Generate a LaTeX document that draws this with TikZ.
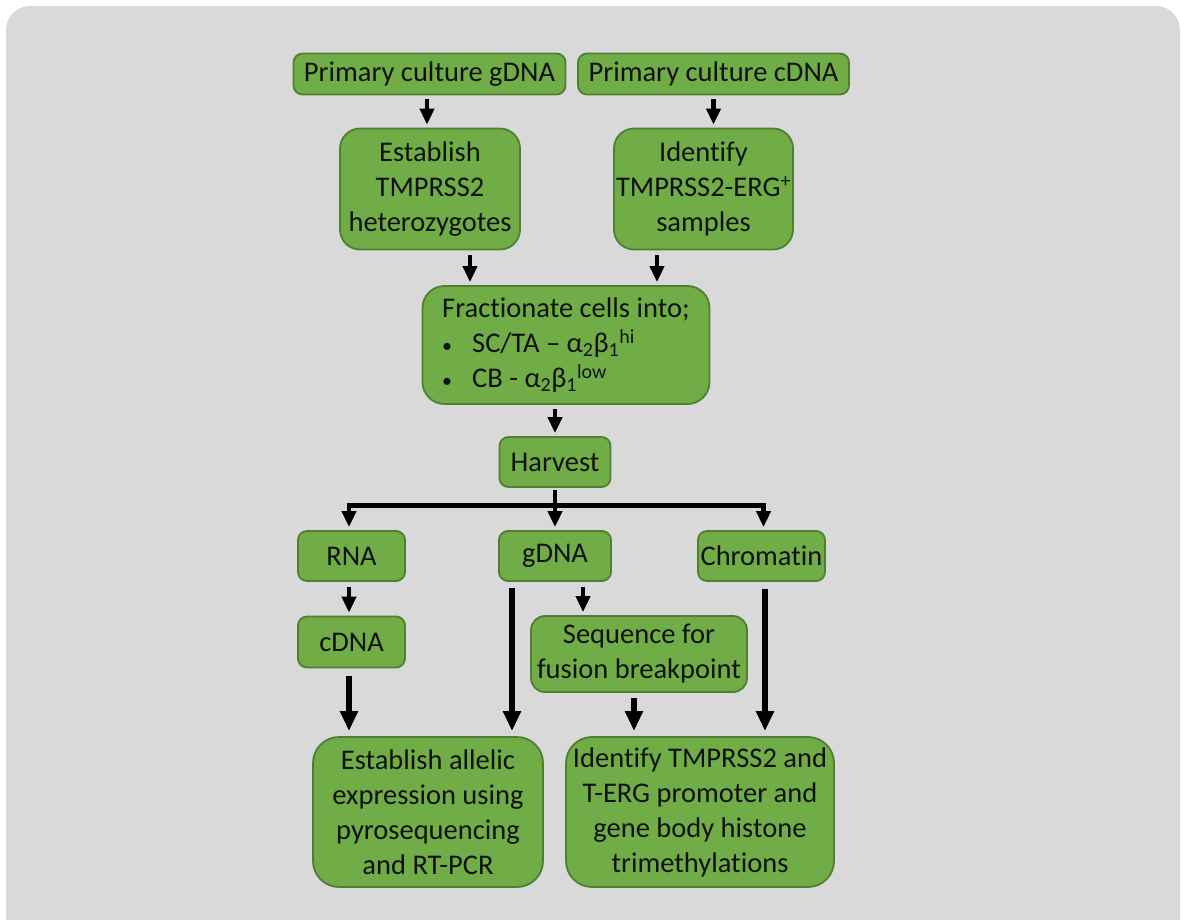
\documentclass[tikz,border=0pt]{standalone}
\usepackage{fontspec}
\setmainfont{Carlito}[Ligatures={NoCommon}]
\usetikzlibrary{arrows.meta}
\definecolor{bg}{HTML}{D9D9D9}
\definecolor{boxfill}{HTML}{70AD47}
\definecolor{boxline}{HTML}{507E32}
\definecolor{txt}{HTML}{111111}
\begin{document}
\begin{tikzpicture}[x=1pt,y=-1pt,
  box/.style={draw=boxline, line width=1.8pt, fill=boxfill, text=txt,
    font=\fontsize{28.5}{35}\selectfont, align=center, inner sep=0pt, rounded corners=#1},
  box/.default=9pt,
  arr/.style={line width=4.5pt, shorten >=3pt, -{Triangle[width=14pt,length=16pt]}},
  arrL/.style={line width=6pt, shorten >=5pt, -{Triangle[width=17pt,length=20pt]}},
  ln/.style={line width=5pt}]
\useasboundingbox (0,0) rectangle (1186,919);
\clip (0,0) rectangle (1186,919);
\fill[white] (0,0) rectangle (1186,919);
\fill[bg, rounded corners=24pt] (6,6) rectangle (1180,945);

\node[box, minimum width=272pt, minimum height=41pt] (pg) at (429.5,74) {Primary culture gDNA};
\node[box, minimum width=271pt, minimum height=41pt] (pc) at (713.5,74) {Primary culture cDNA};
\node[box=20pt, minimum width=180pt, minimum height=121pt] (est) at (430,189) {Establish\\TMPRSS2\\heterozygotes};
\node[box=20pt, minimum width=179pt, minimum height=121pt] (ident) at (703.5,189) {Identify\\TMPRSS2-ERG\textsuperscript{+}\\samples};
\node[box=22pt, minimum width=287pt, minimum height=118pt, align=left] (frac) at (566,345)
  {Fractionate cells into;\\
   \makebox[30pt][l]{\fontsize{20}{20}\selectfont •}SC/TA – α\textsubscript{2}β\textsubscript{1}\textsuperscript{hi}\\
   \makebox[30pt][l]{\fontsize{20}{20}\selectfont •}CB - α\textsubscript{2}β\textsubscript{1}\textsuperscript{low}};
\node[box, minimum width=111pt, minimum height=50pt] (harv) at (555,462) {Harvest};
\node[box, minimum width=107pt, minimum height=50pt] (rna) at (351.5,556) {RNA};
\node[box, minimum width=112pt, minimum height=50pt] (gdna) at (555,556) {gDNA};
\node[box, minimum width=127pt, minimum height=50pt] (chrom) at (761.5,556) {Chromatin};
\node[box, minimum width=107pt, minimum height=51pt] (cdna) at (351.5,642) {cDNA};
\node[box=14pt, minimum width=216pt, minimum height=76pt] (seq) at (639,654) {Sequence for\\fusion breakpoint};
\node[box=26pt, minimum width=230pt, minimum height=150pt] (allel) at (428,812) {Establish allelic\\expression using\\pyrosequencing\\and RT-PCR};
\node[box=26pt, minimum width=268pt, minimum height=150pt] (ident2) at (700,812) {Identify TMPRSS2 and\\T-ERG promoter and\\gene body histone\\trimethylations};

\coordinate (hl) at (555,505);

\draw[arr] ([xshift=-2.5pt,yshift=-4pt]pg.south) -- ([xshift=-2.5pt]pg.south |- est.north);
\draw[arr] ([yshift=-4pt]pc.south) -- (pc.south |- ident.north);
\draw[arr] ([xshift=40pt,yshift=-5pt]est.south) -- ([xshift=40pt]est.south |- frac.north);
\draw[arr] ([xshift=-46.5pt,yshift=-5pt]ident.south) -- ([xshift=-46.5pt]ident.south |- frac.north);
\draw[arr] ([yshift=-4pt]frac.south -| harv.north) -- (harv.north);
\draw[ln, line cap=rect] ([xshift=-2.5pt]hl -| rna.north) -- ([xshift=2pt]hl -| chrom.north);
\draw[arr] ([yshift=-2pt]harv.south) -- (gdna.north);
\draw[arr] ([xshift=-2.5pt]hl -| rna.north) -- ([xshift=-2.5pt]rna.north);
\draw[arr] ([xshift=2pt]hl -| chrom.north) -- ([xshift=2pt]chrom.north);
\draw[arr] ([xshift=-2.5pt,yshift=-5pt]rna.south) -- ([xshift=-2.5pt]cdna.north);
\draw[arrL] ([xshift=-43pt,yshift=-6pt]gdna.south) -- ([xshift=-43pt]gdna.south |- allel.north);
\draw[arr] ([xshift=28pt,yshift=-5pt]gdna.south) -- ([xshift=28pt]gdna.south |- seq.north);
\draw[arrL] ([xshift=-2.5pt,yshift=-8pt]cdna.south) -- ([xshift=-2.5pt]cdna.south |- allel.north);
\draw[arrL] ([xshift=-5pt,yshift=-5pt]seq.south) -- ([xshift=-5pt]seq.south |- ident2.north);
\draw[arrL] ([xshift=3.5pt,yshift=-7pt]chrom.south) -- ([xshift=3.5pt]chrom.south |- ident2.north);
\end{tikzpicture}
\end{document}
